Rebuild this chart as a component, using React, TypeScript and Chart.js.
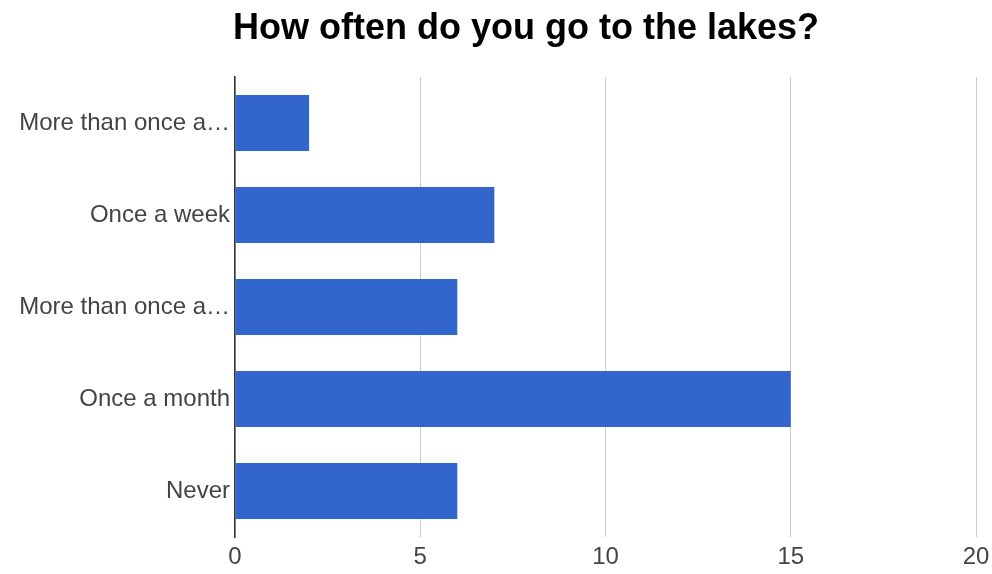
import React, { useEffect, useRef } from "react";
import { Chart, registerables } from "chart.js";

Chart.register(...registerables);

const categories = [
  "More than once a…",
  "Once a week",
  "More than once a…",
  "Once a month",
  "Never",
];
const responses = [2, 7, 6, 15, 6];
const xTickMin = 0;
const xTickMax = 20;
const xTickStep = 5;
const titleText = "How often do you go to the lakes?";

const FONT = "'Liberation Sans', Arial, sans-serif";

const titlePlugin = {
  id: "customTitle",
  afterDraw(chart: any) {
    const ctx = chart.ctx;
    ctx.save();
    ctx.font = `bold 36px ${FONT}`;
    ctx.fillStyle = "#000";
    ctx.textAlign = "center";
    ctx.textBaseline = "alphabetic";
    ctx.fillText(titleText, 526, 39);
    ctx.restore();
  },
};

export default function App() {
  const ref = useRef<HTMLCanvasElement | null>(null);

  useEffect(() => {
    if (!ref.current) return;
    const chart = new Chart(ref.current, {
      type: "bar",
      data: {
        labels: categories,
        datasets: [
          {
            data: responses,
            backgroundColor: "#3366CC",
            borderWidth: 0,
            categoryPercentage: 1,
            barPercentage: 0.61,
          },
        ],
      },
      options: {
        indexAxis: "y",
        responsive: false,
        animation: false,
        devicePixelRatio: 1,
        layout: { padding: { left: 0, right: 16, top: 77, bottom: 0 } },
        plugins: {
          legend: { display: false },
          tooltip: { enabled: false },
          title: { display: false },
        },
        scales: {
          x: {
            min: xTickMin,
            max: xTickMax,
            ticks: {
              stepSize: xTickStep,
              color: "#444",
              padding: 6,
              font: { family: FONT, size: 24 },
            },
            grid: {
              color: "#cccccc",
              lineWidth: 1,
              drawTicks: false,
            },
            border: { display: false },
            afterFit: (scale: any) => {
              scale.height = 37;
              scale.paddingRight = 0;
              scale.paddingLeft = 0;
            },
          },
          y: {
            ticks: {
              color: "#444",
              padding: 5,
              autoSkip: false,
              font: { family: FONT, size: 24 },
            },
            grid: { display: false, drawTicks: false },
            border: { display: true, color: "#333", width: 1.5 },
            afterFit: (scale: any) => {
              scale.width = 235;
              scale.paddingTop = 0;
              scale.paddingBottom = 0;
            },
          },
        },
      },
      plugins: [titlePlugin],
    });
    return () => chart.destroy();
  }, []);

  return (
    <div style={{ position: "fixed", left: 0, top: 0, width: 992, height: 574, background: "#fff" }}>
      <canvas ref={ref} width={992} height={574} style={{ display: "block" }} />
    </div>
  );
}
